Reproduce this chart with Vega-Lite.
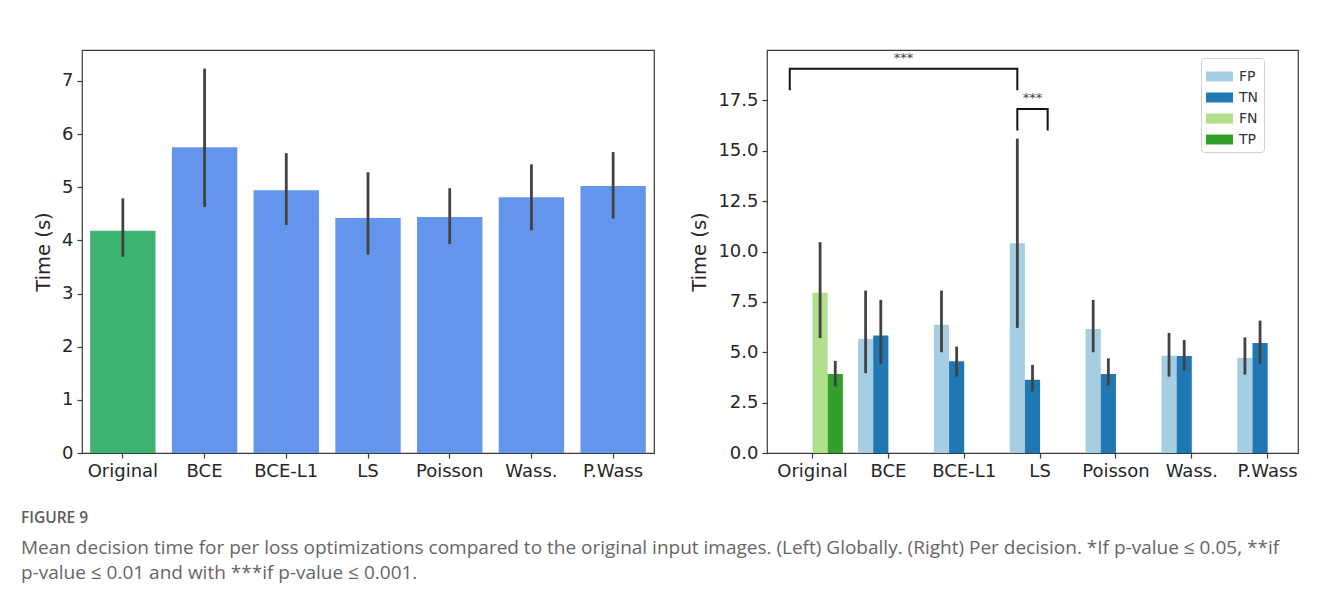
{
  "$schema": "https://vega.github.io/schema/vega-lite/v6.json",
  "background": "white",
  "padding": {"left": 20, "top": 49, "right": 5, "bottom": 5},
  "config": {
    "font": "DejaVu Sans",
    "view": {"stroke": "#3a3a3a", "strokeWidth": 1.2},
    "axis": {
      "labelFont": "DejaVu Sans", "labelFontSize": 18, "labelColor": "#262626",
      "titleFont": "DejaVu Sans", "titleFontSize": 19.5, "titleFontWeight": "normal", "titleColor": "#262626",
      "tickColor": "#3a3a3a", "tickSize": 5, "tickWidth": 1.2, "labelPadding": 4, "titlePadding": 8,
      "domain": false, "grid": false
    }
  },
  "title": {
    "text": "FIGURE 9",
    "subtitle": [
      "Mean decision time for per loss optimizations compared to the original input images. (Left) Globally. (Right) Per decision. *If p-value ≤ 0.05, **if",
      "p-value ≤ 0.01 and with ***if p-value ≤ 0.001."
    ],
    "orient": "bottom", "anchor": "start", "dx": -12, "offset": 30,
    "font": "Open Sans", "fontSize": 15.5, "fontWeight": 600, "color": "#5c5c5c",
    "subtitleFont": "Open Sans", "subtitleFontSize": 19, "subtitleColor": "#666666",
    "subtitleLineHeight": 25, "subtitlePadding": 13
  },
  "datasets": {
    "glob": [
      {"loss": "Original", "group": "Original", "mean": 4.18, "lo": 3.69, "hi": 4.79},
      {"loss": "BCE", "group": "Optimized", "mean": 5.75, "lo": 4.63, "hi": 7.23},
      {"loss": "BCE-L1", "group": "Optimized", "mean": 4.94, "lo": 4.29, "hi": 5.64},
      {"loss": "LS", "group": "Optimized", "mean": 4.42, "lo": 3.73, "hi": 5.28},
      {"loss": "Poisson", "group": "Optimized", "mean": 4.44, "lo": 3.93, "hi": 4.98},
      {"loss": "Wass.", "group": "Optimized", "mean": 4.81, "lo": 4.19, "hi": 5.43},
      {"loss": "P.Wass", "group": "Optimized", "mean": 5.02, "lo": 4.41, "hi": 5.66}
    ],
    "dec": [
      {"loss": "Original", "decision": "FN", "mean": 7.95, "lo": 5.70, "hi": 10.46},
      {"loss": "Original", "decision": "TP", "mean": 3.92, "lo": 3.30, "hi": 4.57},
      {"loss": "BCE", "decision": "FP", "mean": 5.66, "lo": 3.96, "hi": 8.06},
      {"loss": "BCE", "decision": "TN", "mean": 5.83, "lo": 4.42, "hi": 7.60},
      {"loss": "BCE-L1", "decision": "FP", "mean": 6.37, "lo": 5.00, "hi": 8.06},
      {"loss": "BCE-L1", "decision": "TN", "mean": 4.55, "lo": 3.79, "hi": 5.28},
      {"loss": "LS", "decision": "FP", "mean": 10.41, "lo": 6.21, "hi": 15.60},
      {"loss": "LS", "decision": "TN", "mean": 3.64, "lo": 3.06, "hi": 4.37},
      {"loss": "Poisson", "decision": "FP", "mean": 6.16, "lo": 5.00, "hi": 7.60},
      {"loss": "Poisson", "decision": "TN", "mean": 3.92, "lo": 3.34, "hi": 4.70},
      {"loss": "Wass.", "decision": "FP", "mean": 4.83, "lo": 3.79, "hi": 5.96},
      {"loss": "Wass.", "decision": "TN", "mean": 4.82, "lo": 4.09, "hi": 5.61},
      {"loss": "P.Wass", "decision": "FP", "mean": 4.72, "lo": 3.89, "hi": 5.74},
      {"loss": "P.Wass", "decision": "TN", "mean": 5.46, "lo": 4.42, "hi": 6.57}
    ],
    "brackets": [
      {"b": "A", "k": 1, "pos": -0.3, "t": 18.0},
      {"b": "A", "k": 2, "pos": -0.3, "t": 19.07},
      {"b": "A", "k": 3, "pos": 2.7, "t": 19.07},
      {"b": "A", "k": 4, "pos": 2.7, "t": 18.0},
      {"b": "B", "k": 1, "pos": 2.7, "t": 16.0},
      {"b": "B", "k": 2, "pos": 2.7, "t": 17.07},
      {"b": "B", "k": 3, "pos": 3.1, "t": 17.07},
      {"b": "B", "k": 4, "pos": 3.1, "t": 16.0}
    ],
    "stars": [
      {"pos": 1.2, "t": 19.4, "label": "***"},
      {"pos": 2.9, "t": 17.4, "label": "***"}
    ]
  },
  "spacing": 34,
  "resolve": {"scale": {"color": "independent", "y": "independent"}, "legend": {"color": "independent"}},
  "hconcat": [
    {
      "width": 572, "height": 403,
      "data": {"name": "glob"},
      "layer": [
        {
          "mark": {"type": "bar"},
          "encoding": {
            "x": {"field": "loss", "type": "nominal", "sort": null,
                  "scale": {"paddingInner": 0.2, "paddingOuter": 0.1},
                  "axis": {"title": null, "labelAngle": 0, "labelOverlap": false}},
            "y": {"field": "mean", "type": "quantitative",
                  "scale": {"domain": [0, 7.58], "nice": false},
                  "axis": {"title": "Time (s)", "values": [0, 1, 2, 3, 4, 5, 6, 7], "format": "d"}},
            "color": {"field": "group", "type": "nominal",
                      "scale": {"domain": ["Original", "Optimized"], "range": ["#3cb371", "#6495ed"]},
                      "legend": null}
          }
        },
        {
          "mark": {"type": "rule", "strokeWidth": 2.8, "color": "#424242"},
          "encoding": {
            "x": {"field": "loss", "type": "nominal", "sort": null},
            "y": {"field": "lo", "type": "quantitative", "scale": {"domain": [0, 7.58], "nice": false}},
            "y2": {"field": "hi"}
          }
        }
      ]
    },
    {
      "width": 531, "height": 403,
      "layer": [
        {
          "data": {"name": "dec"},
          "layer": [
            {
              "mark": {"type": "bar"},
              "encoding": {
                "x": {"field": "loss", "type": "nominal",
                      "sort": ["Original", "BCE", "BCE-L1", "LS", "Poisson", "Wass.", "P.Wass"],
                      "scale": {"paddingInner": 0.2, "paddingOuter": 0.1, "align": 1},
                      "axis": {"title": null, "labelAngle": 0, "labelOverlap": false}},
                "xOffset": {"field": "decision", "type": "nominal",
                            "scale": {"domain": ["FP", "TN", "FN", "TP"], "paddingInner": 0, "paddingOuter": 0}},
                "y": {"field": "mean", "type": "quantitative",
                      "scale": {"domain": [0, 20], "nice": false},
                      "axis": {"title": "Time (s)", "values": [0, 2.5, 5, 7.5, 10, 12.5, 15, 17.5], "format": ".1f"}},
                "color": {"field": "decision", "type": "nominal",
                          "scale": {"domain": ["FP", "TN", "FN", "TP"], "range": ["#a6cee3", "#1f78b4", "#b2df8a", "#33a02c"]},
                          "legend": {"title": null, "orient": "none", "legendX": 434, "legendY": 8,
                                     "symbolType": "M-1,-0.37H1V0.37H-1Z", "symbolSize": 729, "symbolStrokeWidth": 0,
                                     "labelFont": "DejaVu Sans", "labelFontSize": 14, "labelColor": "#333",
                                     "labelOffset": 6,
                                     "fillColor": "white", "strokeColor": "#d0d0d0", "cornerRadius": 3,
                                     "padding": 5, "rowPadding": -2.5}}
              }
            },
            {
              "mark": {"type": "rule", "strokeWidth": 2.8, "color": "#424242"},
              "encoding": {
                "x": {"field": "loss", "type": "nominal",
                      "sort": ["Original", "BCE", "BCE-L1", "LS", "Poisson", "Wass.", "P.Wass"]},
                "xOffset": {"field": "decision", "type": "nominal"},
                "y": {"field": "lo", "type": "quantitative", "scale": {"domain": [0, 20], "nice": false}},
                "y2": {"field": "hi"}
              }
            }
          ]
        },
        {
          "layer": [
            {
              "data": {"name": "brackets"},
              "mark": {"type": "line", "color": "#111111", "strokeWidth": 2},
              "encoding": {
                "x": {"field": "pos", "type": "quantitative", "scale": {"domain": [-0.6, 6.4], "nice": false, "zero": false}, "axis": null},
                "y": {"field": "t", "type": "quantitative", "scale": {"domain": [0, 20], "nice": false}},
                "detail": {"field": "b", "type": "nominal"},
                "order": {"field": "k", "type": "quantitative"}
              }
            },
            {
              "data": {"name": "stars"},
              "mark": {"type": "text", "fontSize": 13, "color": "#444444", "baseline": "alphabetic"},
              "encoding": {
                "x": {"field": "pos", "type": "quantitative", "scale": {"domain": [-0.6, 6.4], "nice": false, "zero": false}, "axis": null},
                "y": {"field": "t", "type": "quantitative", "scale": {"domain": [0, 20], "nice": false}},
                "text": {"field": "label", "type": "nominal"}
              }
            }
          ]
        }
      ],
      "resolve": {"scale": {"x": "independent"}}
    }
  ]
}
